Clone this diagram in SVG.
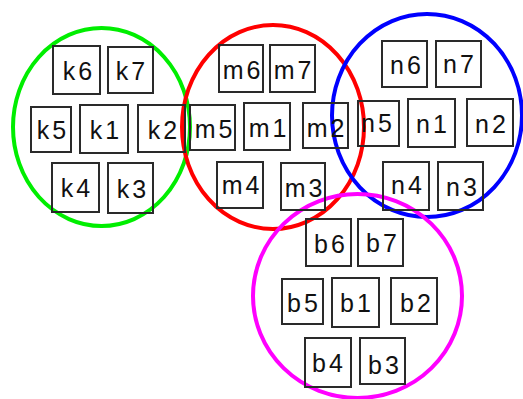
<svg xmlns="http://www.w3.org/2000/svg" width="523" height="399" viewBox="0 0 523 399">
<style>
.c{fill:none;stroke-width:4}
.b{fill:none;stroke:#2a2a2a;stroke-width:2}
.t{font-family:"Liberation Sans",Arial,sans-serif;font-size:25px;fill:#111;text-anchor:middle;letter-spacing:3px}
</style>
<rect width="523" height="399" fill="#fff"/>
<g id="clusters">
<ellipse id="green" class="c" cx="101.5" cy="127" rx="88.5" ry="99" stroke="#00ee00"/>
<ellipse id="red" class="c" cx="273" cy="127" rx="91" ry="102" stroke="#ff0000"/>
<ellipse id="blue" class="c" cx="427" cy="115.5" rx="95" ry="101.5" stroke="#0000ff"/>
<ellipse id="magenta" class="c" cx="357.5" cy="296" rx="104.5" ry="102" stroke="#ff00ff"/>
</g>
<g id="k6"><rect class="b" x="53" y="46" width="47" height="48"/><text class="t" x="79" y="80">k6</text></g>
<g id="k7"><rect class="b" x="108" y="47" width="45" height="46"/><text class="t" x="132" y="80">k7</text></g>
<g id="k5"><rect class="b" x="31" y="107" width="40" height="45"/><text class="t" x="53" y="139">k5</text></g>
<g id="k1"><rect class="b" x="80" y="105" width="48" height="48"/><text class="t" x="106" y="139">k1</text></g>
<g id="k2"><rect class="b" x="138" y="105" width="47" height="47"/><text class="t" x="164" y="139">k2</text></g>
<g id="k4"><rect class="b" x="52" y="163" width="47" height="49"/><text class="t" x="77" y="197">k4</text></g>
<g id="k3"><rect class="b" x="108" y="163" width="45" height="50"/><text class="t" x="133" y="198">k3</text></g>
<g id="m6"><rect class="b" x="219" y="45" width="44" height="47"/><text class="t" x="243" y="79">m6</text></g>
<g id="m7"><rect class="b" x="270" y="45" width="45" height="47"/><text class="t" x="294" y="79">m7</text></g>
<g id="m5"><rect class="b" x="190" y="105" width="45" height="45"/><text class="t" x="215" y="138">m5</text></g>
<g id="m1"><rect class="b" x="244" y="103" width="46" height="47"/><text class="t" x="269" y="137">m1</text></g>
<g id="m2"><rect class="b" x="303" y="103" width="45" height="45"/><text class="t" x="327" y="137">m2</text></g>
<g id="m4"><rect class="b" x="217" y="162" width="46" height="46"/><text class="t" x="242" y="194">m4</text></g>
<g id="m3"><rect class="b" x="281" y="163" width="44" height="47"/><text class="t" x="305" y="197">m3</text></g>
<g id="n6"><rect class="b" x="382" y="41" width="45" height="46"/><text class="t" x="407" y="74">n6</text></g>
<g id="n7"><rect class="b" x="436" y="41" width="45" height="46"/><text class="t" x="460" y="73">n7</text></g>
<g id="n5"><rect class="b" x="358" y="101" width="41" height="45"/><text class="t" x="378" y="132">n5</text></g>
<g id="n1"><rect class="b" x="408" y="99" width="47" height="48"/><text class="t" x="433" y="133">n1</text></g>
<g id="n2"><rect class="b" x="467" y="99" width="46" height="47"/><text class="t" x="492" y="133">n2</text></g>
<g id="n4"><rect class="b" x="383" y="162" width="46" height="48"/><text class="t" x="408" y="194">n4</text></g>
<g id="n3"><rect class="b" x="438" y="162" width="45" height="48"/><text class="t" x="463" y="196">n3</text></g>
<g id="b6"><rect class="b" x="306" y="219" width="45" height="47"/><text class="t" x="331" y="253">b6</text></g>
<g id="b7"><rect class="b" x="358" y="219" width="45" height="47"/><text class="t" x="383" y="252">b7</text></g>
<g id="b5"><rect class="b" x="282" y="279" width="41" height="45"/><text class="t" x="304" y="312">b5</text></g>
<g id="b1"><rect class="b" x="332" y="278" width="47" height="49"/><text class="t" x="357" y="312">b1</text></g>
<g id="b2"><rect class="b" x="391" y="278" width="46" height="46"/><text class="t" x="417" y="312">b2</text></g>
<g id="b4"><rect class="b" x="305" y="338" width="46" height="49"/><text class="t" x="329" y="372">b4</text></g>
<g id="b3"><rect class="b" x="360" y="338" width="45" height="46"/><text class="t" x="385" y="374">b3</text></g>
</svg>
